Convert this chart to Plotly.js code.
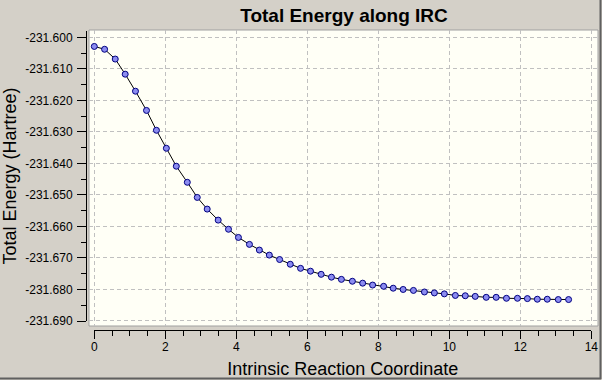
<!DOCTYPE html>
<html>
<head>
<meta charset="utf-8">
<script src="https://cdn.plot.ly/plotly-3.0.1.min.js"></script>
<style>
  html, body { margin: 0; padding: 0; background: #d4d0c8; }
  #chart { width: 602px; height: 380px; }
</style>
</head>
<body>
<div id="chart"></div>
<script>
// ---- data ----
const ircCoordinate = [
  0.00, 0.29, 0.59, 0.87, 1.16, 1.47, 1.75, 2.03, 2.31, 2.62,
  2.90, 3.18, 3.49, 3.78, 4.06, 4.37, 4.65, 4.93, 5.22, 5.52,
  5.81, 6.09, 6.39, 6.68, 6.96, 7.27, 7.56, 7.84, 8.15, 8.42,
  8.70, 8.99, 9.30, 9.58, 9.86, 10.17, 10.45, 10.73, 11.04, 11.32,
  11.61, 11.92, 12.20, 12.48, 12.76, 13.07, 13.36
];
const totalEnergy = [
  -231.6029, -231.6038, -231.6069, -231.6117, -231.6171, -231.6232, -231.6295, -231.6352, -231.6409, -231.6460,
  -231.6508, -231.6545, -231.6580, -231.6609, -231.6635, -231.6657, -231.6675, -231.6691, -231.6705, -231.6720,
  -231.6733, -231.6742, -231.6752, -231.6761, -231.6768, -231.6774, -231.6780, -231.6786, -231.6790, -231.6796,
  -231.6800, -231.6803, -231.6808, -231.6811, -231.6814, -231.6819, -231.6820, -231.6822, -231.6825, -231.6825,
  -231.6828, -231.6828, -231.6829, -231.6831, -231.6831, -231.6832, -231.6832
];
const xTickVals = [0, 2, 4, 6, 8, 10, 12, 14];
const xTickLabels = ["0", "2", "4", "6", "8", "10", "12", "14"];
const yTickVals = [-231.600, -231.610, -231.620, -231.630, -231.640, -231.650, -231.660, -231.670, -231.680, -231.690];
const yTickLabels = ["-231.600", "-231.610", "-231.620", "-231.630", "-231.640", "-231.650", "-231.660", "-231.670", "-231.680", "-231.690"];

const chartTitle = "Total Energy along IRC";
const xTitle = "Intrinsic Reaction Coordinate";
const yTitle = "Total Energy (Hartree)";

// ---- layout geometry (pixels) ----
const W = 602, H = 380;
const M = { l: 86, r: 4, t: 30, b: 50 };
const PW = W - M.l - M.r, PH = H - M.t - M.b;
const px2x = p => (p - M.l) / PW;
const px2y = p => (H - M.b - p) / PH;

const FONT = "Liberation Sans, Arial, sans-serif";
const gridCol = "#c0c0c0";

const traces = [
  {
    x: ircCoordinate, y: totalEnergy, xaxis: "x", yaxis: "y",
    type: "scatter", mode: "lines+markers",
    line: { color: "#000000", width: 1 },
    marker: { symbol: "circle", size: 6, color: "#8c8cf0", line: { color: "#000080", width: 1 } },
    hoverinfo: "x+y", showlegend: false
  },
  {
    x: ircCoordinate, y: totalEnergy, xaxis: "x2", yaxis: "y2",
    type: "scatter", mode: "none", hoverinfo: "skip", showlegend: false
  }
];

const layout = {
  width: W, height: H,
  margin: M,
  paper_bgcolor: "#d4d0c8",
  plot_bgcolor: "rgba(0,0,0,0)",
  font: { family: FONT, size: 12, color: "#000000" },
  showlegend: false,
  title: {
    text: "<b>" + chartTitle + "</b>",
    font: { family: FONT, size: 19, color: "#000000" },
    xref: "paper", x: px2x(344), xanchor: "center",
    yref: "container", y: 1 - 15 / H, yanchor: "middle"
  },
  // grid-only axes covering the cream plot area
  xaxis: {
    domain: [px2x(89), 1],
    range: [(89 - 94.3) / 35.5, (598 - 94.3) / 35.5],
    tickmode: "array", tickvals: xTickVals,
    showticklabels: false, ticks: "",
    showgrid: true, gridcolor: gridCol, gridwidth: 1, griddash: "4px,3px",
    zeroline: false, showline: false, fixedrange: true
  },
  yaxis: {
    domain: [px2y(326), 1],
    range: [-231.600 - (326 - 37.3) / 3152, -231.600 + (37.3 - 30) / 3152],
    tickmode: "array", tickvals: yTickVals,
    showticklabels: false, ticks: "",
    showgrid: true, gridcolor: gridCol, gridwidth: 1, griddash: "4px,3px",
    zeroline: false, showline: false, fixedrange: true
  },
  // detached axes with ticks and labels
  xaxis2: {
    anchor: "free", position: 0,
    domain: [px2x(94.3), px2x(591.3)],
    range: [0, 14],
    tickmode: "array", tickvals: xTickVals, ticktext: xTickLabels,
    ticks: "outside", ticklen: 8, tickwidth: 1, tickcolor: "#000000",
    ticklabelstandoff: -2,
    minor: { dtick: 0.5, tick0: 0, ticks: "outside", ticklen: 5, tickwidth: 1, tickcolor: "#000000", showgrid: false },
    tickfont: { family: FONT, size: 12, color: "#000000" },
    showline: true, linecolor: "#000000", linewidth: 1,
    showgrid: false, zeroline: false, fixedrange: true,
    title: { text: xTitle, font: { family: FONT, size: 18, color: "#000000" }, standoff: 8 }
  },
  yaxis2: {
    anchor: "free", position: 0, side: "left",
    domain: [px2y(321), px2y(31)],
    range: [-231.690, -231.598],
    tickmode: "array", tickvals: yTickVals, ticktext: yTickLabels,
    ticks: "outside", ticklen: 9, tickwidth: 1, tickcolor: "#000000",
    ticklabelstandoff: 2,
    minor: { dtick: 0.005, tick0: -231.6, ticks: "outside", ticklen: 5, tickwidth: 1, tickcolor: "#000000", showgrid: false },
    tickfont: { family: FONT, size: 12, color: "#000000" },
    showline: true, linecolor: "#000000", linewidth: 1,
    showgrid: false, zeroline: false, fixedrange: true,
    title: { text: yTitle, font: { family: FONT, size: 18, color: "#000000" }, standoff: 6 }
  },
  shapes: [
    // cream plot background
    { type: "rect", xref: "paper", yref: "paper", layer: "below",
      x0: px2x(89), x1: px2x(598), y0: px2y(326), y1: px2y(30),
      fillcolor: "#fffff6", line: { color: "#a0a0a0", width: 1 } },
    // window frame (right / bottom dark edges)
    { type: "line", xref: "paper", yref: "paper", layer: "above",
      x0: px2x(600.5), x1: px2x(600.5), y0: px2y(0), y1: px2y(379), line: { color: "#606060", width: 2 } },
    { type: "line", xref: "paper", yref: "paper", layer: "above",
      x0: px2x(0), x1: px2x(601), y0: px2y(378.5), y1: px2y(378.5), line: { color: "#606060", width: 2 } }
  ]
};

Plotly.newPlot("chart", traces, layout, { displayModeBar: false, responsive: false });
</script>
</body>
</html>
